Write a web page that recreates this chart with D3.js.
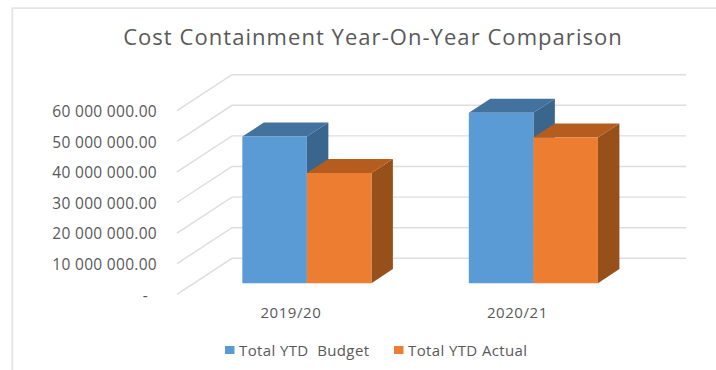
<!DOCTYPE html>
<html>
<head>
<meta charset="utf-8">
<script src="https://cdn.jsdelivr.net/npm/d3@7/dist/d3.min.js"></script>
<style>
  html, body { margin: 0; padding: 0; background: #fff; }
  svg { display: block; font-family: "Open Sans", sans-serif; }
</style>
</head>
<body>
<svg id="chart" width="716" height="370"></svg>
<script>
const chartTitle = "Cost Containment Year-On-Year Comparison";
const categories = ["2019/20", "2020/21"];
const seriesNames = ["Total YTD  Budget", "Total YTD Actual"];
const budgetValues = [47900000, 55700000];
const actualValues = [36000000, 47600000];
const tickValues = [0, 10000000, 20000000, 30000000, 40000000, 50000000, 60000000];

const faceColors = ["#5B9BD5", "#ED7D31"];
const topColors = ["#44729F", "#B55D1E"];
const sideColors = ["#3A658C", "#97501A"];
const gridColor = "#DDDDDD";
const frameColor = "#E4E4E4";
const textColor = "#595959";

const svg = d3.select("#chart");

// Oblique projection: depth 0 is the front of the floor, depth 1 the back wall.
const depthX = 55, depthY = -36;
const barDepthNear = 0.31, barDepthFar = 0.70;
const project = (x, y, d) => [x + depthX * d, y + depthY * d];

const floorLeft = 177, floorRight = 631;
const y = d3.scaleLinear().domain([0, 60000000]).range([294.3, 110.7]);
const x0 = d3.scaleBand().domain(categories).range([176.6, 629.6])
  .paddingInner(0.43).paddingOuter(0.215);
const x1 = d3.scaleBand().domain([0, 1]).range([0, x0.bandwidth()]);

// Outer frame of the chart area
svg.append("path")
  .attr("d", "M12.3,370V8.2H716")
  .attr("fill", "none").attr("stroke", frameColor).attr("stroke-width", 1.8);

// Gridlines: side wall then back wall
const line = d3.line();
svg.append("g").selectAll("path").data(tickValues).join("path")
  .attr("d", v => line([project(floorLeft, y(v), 0), project(floorLeft, y(v), 1), project(floorRight, y(v), 1)]))
  .attr("fill", "none").attr("stroke", gridColor).attr("stroke-width", 1.4);

// Value axis labels; zero is shown as an indented dash, accounting style
const locale = d3.formatLocale({ decimal: ".", thousands: " ", grouping: [3], currency: ["", ""] });
const valueFormat = locale.format(",.2f");
const axisY = svg.append("g").attr("transform", "translate(167,0)")
  .call(d3.axisLeft(y).tickValues(tickValues).tickSize(0).tickPadding(10)
    .tickFormat(v => v === 0 ? "-" : valueFormat(v)));
axisY.select(".domain").remove();
axisY.selectAll("text").attr("fill", textColor).attr("font-size", 15.5)
  .attr("letter-spacing", 0.3).attr("dy", "0.38em")
  .attr("dx", v => v === 0 ? -9 : 0)
  .attr("font-family", "\"Open Sans\", sans-serif");

// Category axis labels
const axisX = svg.append("g").attr("transform", "translate(1,313)")
  .call(d3.axisBottom(x0).tickSize(0).tickPadding(0));
axisX.select(".domain").remove();
axisX.selectAll("text").attr("fill", textColor).attr("font-size", 15)
  .attr("letter-spacing", 0.55).attr("dy", "0.32em")
  .attr("font-family", "\"Open Sans\", sans-serif");

// Bars as three faces, budget first so the actual bar overlaps its side
const rows = [budgetValues, actualValues];
const bars = categories.flatMap((c, i) => rows.map((vals, s) => ({ c, s, v: vals[i] })));
const polygon = pts => "M" + pts.map(p => p.join(",")).join("L") + "Z";

const bar = svg.append("g").selectAll("g").data(bars).join("g");
bar.each(function (d) {
  const g = d3.select(this);
  const l = x0(d.c) + x1(d.s), r = l + x1.bandwidth();
  const t = y(d.v), b = y(0);
  const n = barDepthNear, f = barDepthFar;
  g.append("path").attr("fill", sideColors[d.s])
    .attr("d", polygon([project(r, t, n), project(r, t, f), project(r, b, f), project(r, b, n)]));
  g.append("path").attr("fill", topColors[d.s])
    .attr("d", polygon([project(l, t, n), project(l, t, f), project(r, t, f), project(r, t, n)]));
  g.append("path").attr("fill", faceColors[d.s])
    .attr("d", polygon([project(l, t, n), project(r, t, n), project(r, b, n), project(l, b, n)]));
});

// Title
svg.append("text").attr("x", 373).attr("y", 35.5).attr("text-anchor", "middle")
  .attr("dominant-baseline", "central").attr("fill", textColor)
  .attr("font-size", 22).attr("letter-spacing", 1.05).text(chartTitle);

// Legend
const legendX = [225, 394];
const legend = svg.append("g").selectAll("g").data(seriesNames).join("g")
  .attr("transform", (d, i) => `translate(${legendX[i]},346)`);
legend.append("rect").attr("width", 9.5).attr("height", 8).attr("fill", (d, i) => faceColors[i]);
legend.append("text").attr("x", 14).attr("y", 4).attr("dominant-baseline", "central")
  .attr("fill", textColor).attr("font-size", 15).attr("letter-spacing", 0.38)
  .style("white-space", "pre").text(d => d);
</script>
</body>
</html>
